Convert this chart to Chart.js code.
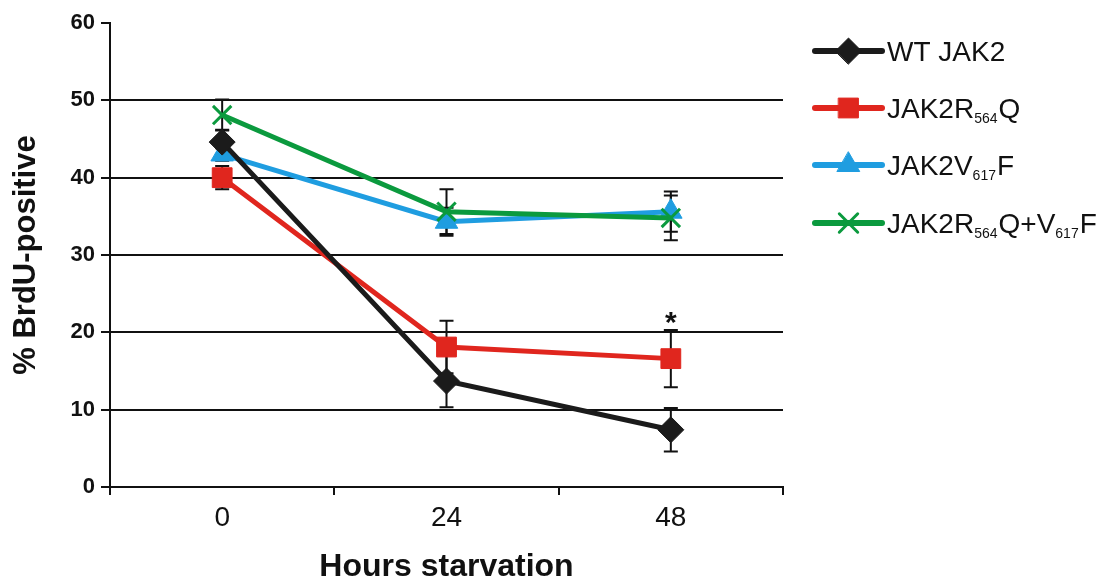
<!DOCTYPE html>
<html>
<head>
<meta charset="utf-8">
<script src="https://cdn.jsdelivr.net/npm/chart.js@4.4.1/dist/chart.umd.min.js"></script>
<style>
    html, body { margin: 0; padding: 0; background: #fff; }
    #wrap { width: 1104px; height: 586px; position: relative; }
</style>
</head>
<body>
<div id="wrap"><canvas id="chart"></canvas></div>
<script>
var hours = ["0", "24", "48"];

var wtValues = [44.6, 13.7, 7.4],
    wtErrors = [1.6, 3.4, 2.8];
var r564Values = [40.0, 18.1, 16.6],
    r564Errors = [1.5, 3.4, 3.7];
var v617Values = [43.0, 34.3, 35.6],
    v617Errors = [0.8, 1.8, 2.6];
var bothValues = [48.1, 35.6, 34.8],
    bothErrors = [2.0, 2.9, 2.9];

// legend text: [main, sub, main, sub, main]
var legendParts = [
    ["WT JAK2"],
    ["JAK2R", "564", "Q"],
    ["JAK2V", "617", "F"],
    ["JAK2R", "564", "Q+V", "617", "F"]
];

var BLACK = "#1b1b1b",
    RED = "#e0261e",
    BLUE = "#1f9de0",
    GREEN = "#0b9a3e";

var FONT = "'Liberation Sans', Arial, sans-serif";

function series(label, data, color, style, radius, bw, order) {
    return {
        label: label,
        data: data,
        order: order,
        borderColor: color,
        backgroundColor: color,
        borderWidth: 5,
        pointStyle: style,
        pointRadius: radius,
        pointBorderWidth: bw,
        pointBorderColor: color,
        pointBackgroundColor: color,
        tension: 0
    };
}

var errorLists = [wtErrors, r564Errors, v617Errors, bothErrors];

var errorBars = {
    id: "errorBars",
    beforeDatasetsDraw: function(chart) {
        var ctx = chart.ctx,
            x = chart.scales.x,
            y = chart.scales.y;
        ctx.save();
        ctx.strokeStyle = "#111";
        ctx.lineWidth = 2;
        chart.data.datasets.forEach(function(ds, i) {
            ds.data.forEach(function(v, j) {
                var px = x.getPixelForValue(j),
                    top = y.getPixelForValue(v + errorLists[i][j]),
                    bottom = y.getPixelForValue(v - errorLists[i][j]);
                ctx.beginPath();
                ctx.moveTo(px, top);
                ctx.lineTo(px, bottom);
                ctx.moveTo(px - 7, top);
                ctx.lineTo(px + 7, top);
                ctx.moveTo(px - 7, bottom);
                ctx.lineTo(px + 7, bottom);
                ctx.stroke();
            });
        });
        ctx.restore();
    },
    afterDatasetsDraw: function(chart) {
        // significance mark over JAK2R564Q at 48 h
        var ctx = chart.ctx,
            sx = chart.scales.x.getPixelForValue(2),
            sy = chart.scales.y.getPixelForValue(r564Values[2] + r564Errors[2]);
        ctx.save();
        ctx.fillStyle = "#111";
        ctx.font = "bold 30px " + FONT;
        ctx.textAlign = "center";
        ctx.textBaseline = "alphabetic";
        ctx.fillText("*", sx, sy + 2);
        ctx.restore();
    }
};

var sideLegend = {
    id: "sideLegend",
    afterDraw: function(chart) {
        var ctx = chart.ctx,
            rowsY = [51, 108, 165, 223],
            x0 = 815, x1 = 882, tx = 887;
        ctx.save();
        chart.data.datasets.forEach(function(ds, i) {
            var yy = rowsY[i];
            ctx.strokeStyle = ds.borderColor;
            ctx.fillStyle = ds.borderColor;
            ctx.lineWidth = 6;
            ctx.lineCap = "round";
            ctx.beginPath();
            ctx.moveTo(x0, yy);
            ctx.lineTo(x1, yy);
            ctx.stroke();
            ctx.lineWidth = ds.pointBorderWidth;
            Chart.helpers.drawPoint(ctx, {
                pointStyle: ds.pointStyle,
                radius: ds.pointRadius,
                borderWidth: ds.pointBorderWidth,
                rotation: 0
            }, (x0 + x1) / 2, yy);

            ctx.fillStyle = "#111";
            ctx.textAlign = "left";
            ctx.textBaseline = "alphabetic";
            var cx = tx, parts = legendParts[i];
            parts.forEach(function(p, k) {
                var sub = k % 2 === 1;
                ctx.font = (sub ? "14px " : "28px ") + FONT;
                ctx.fillText(p, cx, yy + (sub ? 15 : 10));
                cx += ctx.measureText(p).width + (sub ? 1 : 0);
            });
        });
        ctx.restore();
    }
};

var chart = new Chart(document.getElementById("chart"), {
    type: "line",
    data: {
        labels: hours,
        datasets: [
            series("WT JAK2", wtValues, BLACK, "rectRot", 13, 1, 1),
            series("JAK2R564Q", r564Values, RED, "rect", 14, 1, 3),
            series("JAK2V617F", v617Values, BLUE, "triangle", 13, 1, 2),
            series("JAK2R564Q+V617F", bothValues, GREEN, "crossRot", 13, 3, 0)
        ]
    },
    options: {
        responsive: true,
        maintainAspectRatio: false,
        animation: false,
        layout: {
            padding: { top: 23, right: 321, bottom: 0, left: 0 }
        },
        plugins: {
            legend: { display: false },
            tooltip: { enabled: false }
        },
        scales: {
            x: {
                offset: true,
                grid: {
                    offset: true,
                    drawOnChartArea: false,
                    color: "#111",
                    lineWidth: 2,
                    tickLength: 8
                },
                border: { color: "#111", width: 2 },
                ticks: {
                    color: "#111",
                    padding: 6,
                    font: { family: FONT, size: 28 }
                },
                title: {
                    display: true,
                    text: "Hours starvation",
                    color: "#111",
                    font: { family: FONT, size: 32, weight: "bold" },
                    padding: { top: 10, bottom: 0 }
                },
                afterFit: function(s) { s.height = 99; }
            },
            y: {
                min: 0,
                max: 60,
                ticks: {
                    stepSize: 10,
                    color: "#111",
                    padding: 6,
                    font: { family: FONT, size: 22, weight: "bold" }
                },
                grid: {
                    color: function(c) {
                        return c.tick && c.tick.value === 60 ? "rgba(0,0,0,0)" : "#111";
                    },
                    tickColor: "#111",
                    lineWidth: 2,
                    tickLength: 9
                },
                border: { color: "#111", width: 2 },
                title: {
                    display: true,
                    text: "% BrdU-positive",
                    color: "#111",
                    font: { family: FONT, size: 31, weight: "bold" },
                    padding: { top: 8, bottom: 4 }
                },
                afterFit: function(s) { s.width = 110; }
            }
        }
    },
    plugins: [errorBars, sideLegend]
});
</script>
</body>
</html>
